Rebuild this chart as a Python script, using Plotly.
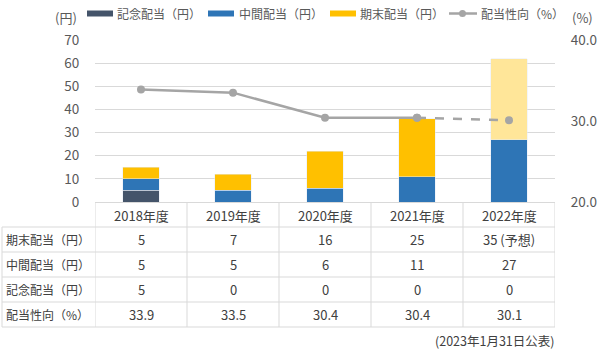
import plotly.graph_objects as go

years = ["2018年度", "2019年度", "2020年度", "2021年度", "2022年度"]
kinen = [5, 0, 0, 0, 0]
chukan = [5, 5, 6, 11, 27]
kimatsu = [5, 7, 16, 25, 35]
payout = [33.9, 33.5, 30.4, 30.4, 30.1]

row_labels = ["期末配当（円）", "中間配当（円）", "記念配当（円）", "配当性向（%）"]
row_values = [
    ["5", "7", "16", "25", "35 (予想)"],
    ["5", "5", "6", "11", "27"],
    ["5", "0", "0", "0", "0"],
    ["33.9", "33.5", "30.4", "30.4", "30.1"],
]

series_names = ["記念配当（円）", "中間配当（円）", "期末配当（円）", "配当性向（%）"]
series_colors = ["#44546A", "#2E75B6", "#FFC000", "#A5A5A5"]
forecast_color = "#FFE699"

FONT = "Noto Sans CJK JP"
TXT = "#595959"
TXT2 = "#404040"
GRID = "#D9D9D9"

L, R, T, B = 95, 45, 40, 150
W, H = 600, 352
PH = H - T - B
PW = W - L - R
base = H - B


def py(p):
    return (base - p) / PH


def px(p):
    return (p - L) / PW


fig = go.Figure()
fig.add_bar(x=years, y=kinen, name=series_names[0], marker_color=series_colors[0], width=0.4)
fig.add_bar(x=years, y=chukan, name=series_names[1], marker_color=series_colors[1], width=0.4)
fig.add_bar(x=years, y=kimatsu, name=series_names[2],
            marker_color=[series_colors[2]] * 4 + [forecast_color], width=0.4)
fig.add_scatter(x=years[:4], y=payout[:4], name=series_names[3], yaxis="y2",
                mode="lines+markers", line=dict(color=series_colors[3], width=2.5),
                marker=dict(size=8, color=series_colors[3]))
fig.add_scatter(x=years[3:], y=payout[3:], yaxis="y2",
                mode="lines+markers",
                line=dict(color=series_colors[3], width=2.5, dash="dash"),
                marker=dict(size=8, color=series_colors[3]))

ann = []
shapes = []


def text(x, y, s, size, color, xanchor="center", xref="paper"):
    ann.append(dict(x=x, y=y, xref=xref, yref="paper", text=s, xanchor=xanchor,
                    yanchor="middle", showarrow=False,
                    font=dict(size=size, color=color, family=FONT)))


row_top = [227, 252, 277, 302]
rh = 25
for i, yv in enumerate(years):
    text(i, py(base + 13), yv, 13, TXT2, xref="x")
for r, (lab, vals) in enumerate(zip(row_labels, row_values)):
    cy = py(row_top[r] + rh / 2)
    text(px(4), cy, lab, 12, TXT2, xanchor="left")
    for i, v in enumerate(vals):
        text(i, cy, v, 13, TXT2, xref="x")
for yy in [227, 252, 277, 302, 327]:
    shapes.append(dict(type="line", xref="paper", yref="paper", x0=px(2), x1=1,
                       y0=py(yy), y1=py(yy), line=dict(color=GRID, width=1)))
for k in range(6):
    shapes.append(dict(type="line", xref="x", yref="paper", x0=k - 0.5, x1=k - 0.5,
                       y0=py(base), y1=py(327), line=dict(color=GRID, width=1)))
shapes.append(dict(type="line", xref="paper", yref="paper", x0=px(2), x1=px(2),
                   y0=py(227), y1=py(327), line=dict(color=GRID, width=1)))

# manual legend
leg_x = [87, 208, 330]
txt_x = [115, 237, 358, 479]
for k in range(3):
    shapes.append(dict(type="rect", xref="paper", yref="paper", x0=px(leg_x[k]),
                       x1=px(leg_x[k] + 26), y0=py(16.5), y1=py(10.5),
                       fillcolor=series_colors[k], line=dict(width=0)))
shapes.append(dict(type="line", xref="paper", yref="paper", x0=px(449), x1=px(477),
                   y0=py(13.5), y1=py(13.5), line=dict(color=series_colors[3], width=2.5)))
shapes.append(dict(type="circle", xref="paper", yref="paper", x0=px(459), x1=px(466),
                   y0=py(17), y1=py(10), fillcolor=series_colors[3],
                   line=dict(width=0)))
for k in range(4):
    text(px(txt_x[k]), py(14), series_names[k], 12, TXT, xanchor="left")

text(px(65.5), py(17), "(円)", 13, TXT)
text(px(582), py(17), "(%)", 13, TXT)
text(px(557), py(340), "(2023年1月31日公表)", 12.5, TXT2, xanchor="right")

fig.update_layout(
    width=W, height=H, margin=dict(l=L, r=R, t=T, b=B, autoexpand=False),
    paper_bgcolor="white", plot_bgcolor="white",
    barmode="stack", showlegend=False,
    font=dict(family=FONT, size=12, color=TXT),
    xaxis=dict(showticklabels=False, showgrid=False, showline=True, linecolor=GRID,
               range=[-0.5, 4.5], fixedrange=True),
    yaxis=dict(range=[0, 70], dtick=10, showgrid=True, gridcolor=GRID, zeroline=False,
               tickfont=dict(size=13.5, color=TXT), ticks="outside", ticklen=12,
               tickcolor="rgba(0,0,0,0)"),
    yaxis2=dict(range=[20, 40], dtick=10, overlaying="y", side="right", showgrid=False,
                tickformat=".1f", zeroline=False, tickfont=dict(size=13.5, color=TXT),
                ticks="outside", ticklen=12, tickcolor="rgba(0,0,0,0)"),
    annotations=ann, shapes=shapes,
)

fig.write_html("out.html")
